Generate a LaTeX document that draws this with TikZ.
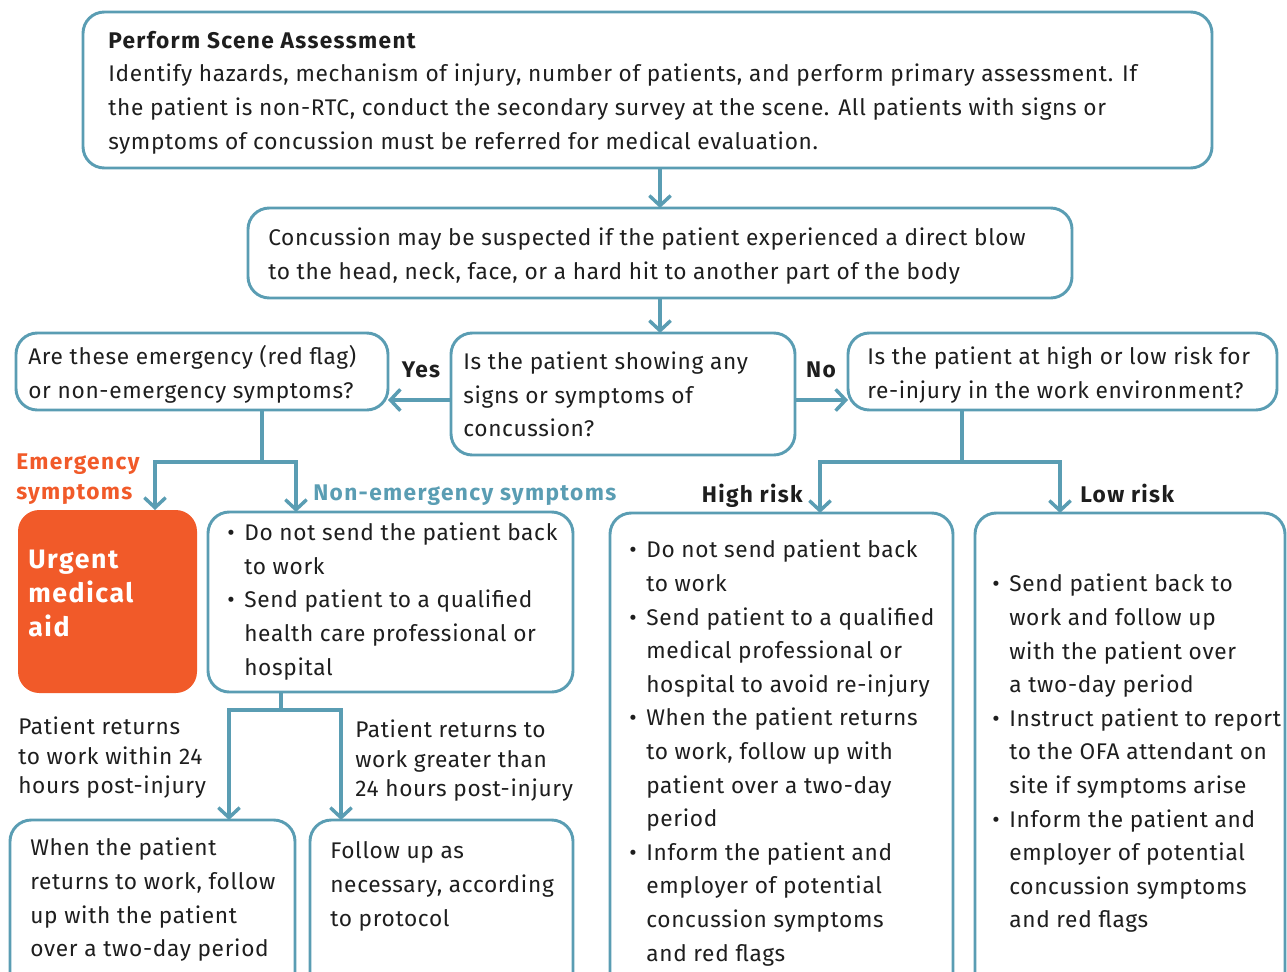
\documentclass[tikz,border=0pt]{standalone}
\usepackage{fontspec}
\setmainfont[LetterSpace=3,BoldFeatures={LetterSpace=6}]{Fira Sans}
\usetikzlibrary{arrows.meta,fit,calc}
\definecolor{tealc}{HTML}{5A9DB3}
\definecolor{orangec}{HTML}{F15A29}
\definecolor{ink}{HTML}{1E1E1E}
\newcommand{\bodyf}{\fontsize{17}{25.2}\selectfont}
\newcommand{\bit}{\makebox[12.75pt][l]{\textbullet}}
\newcommand{\ind}{\hspace*{12.75pt}}
\begin{document}
\begin{tikzpicture}[x=0.75pt,y=-0.75pt,
  box/.style={draw=tealc, line width=2.2pt, rounded corners=16pt, inner sep=0pt, outer sep=0pt},
  txt/.style={anchor=north west, inner sep=0pt, align=left, text=ink, font=\bodyf},
  lbl/.style={inner sep=0pt, text=ink, font=\bodyf\bfseries},
  conn/.style={draw=tealc, line width=2.6pt},
  arr/.style={conn, -{Straight Barb[length=7.5pt,width=16pt]}}]
\useasboundingbox (0,0) rectangle (1287,971);
\clip (0,0) rectangle (1287,971);
% boxes
\node[box, fit={(83,12)(1212,168)}] (top) {};
\node[box, fit={(248,208)(1072,298)}] (sec) {};
\node[box, fit={(451,333)(795,455)}] (q) {};
\node[box, fit={(16,333)(388,410)}] (lq) {};
\node[box, fit={(848,333)(1277,410)}] (rq) {};
\node[fill=orangec, rounded corners=16pt, inner sep=0pt, outer sep=0pt, fit={(18,510)(197,693)}] (urg) {};
\node[box, fit={(208,512)(573,692)}] (ne) {};
\node[box, fit={(10,820)(295,1000)}] (bl) {};
\node[box, fit={(310,820)(573,1000)}] (bm) {};
\node[box, fit={(610,513)(953,1000)}] (hr) {};
\node[box, fit={(975,513)(1285,1000)}] (lr) {};
% texts
\node[txt] (t1) at (108,24.5) {\strut\textbf{Perform Scene Assessment}\\
Identify hazards, mechanism of injury, number of patients, and perform primary assessment. If\\
the patient is non-RTC, conduct the secondary survey at the scene. All patients with signs or\\
symptoms of concussion must be referred for medical evaluation.};
\node[txt] (t2) at (268,222) {\strut Concussion may be suspected if the patient experienced a direct blow\\
to the head, neck, face, or a hard hit to another part of the body};
\node[txt] (tq) at (463,346) {\strut Is the patient showing any\\signs or symptoms of\\concussion?};
\node[txt] (tlq) at (28,341) {\strut Are these emergency (red flag)\\or non-emergency symptoms?};
\node[txt] (trq) at (867,341) {\strut Is the patient at high or low risk for\\re-injury in the work environment?};
\node[txt, text=white, font=\fontsize{20}{25.5}\selectfont\bfseries] (turg) at (28,544) {\strut Urgent\\medical\\aid};
\node[txt] (tne) at (227,517) {\strut\bit Do not send the patient back\\\ind to work\\
\bit Send patient to a qualified\\\ind health care professional or\\\ind hospital};
\node[txt] (tbl) at (30,832) {\strut When the patient\\returns to work, follow\\up with the patient\\over a two-day period};
\node[txt] (tbm) at (330,835) {\strut Follow up as\\necessary, according\\to protocol};
\node[txt] (thr) at (629,534) {\strut\bit Do not send patient back\\\ind to work\\
\bit Send patient to a qualified\\\ind medical professional or\\\ind hospital to avoid re-injury\\
\bit When the patient returns\\\ind to work, follow up with\\\ind patient over a two-day\\\ind period\\
\bit Inform the patient and\\\ind employer of potential\\\ind concussion symptoms\\\ind and red flags};
\node[txt] (tlr) at (992,568) {\strut\bit Send patient back to\\\ind work and follow up\\\ind with the patient over\\\ind a two-day period\\
\bit Instruct patient to report\\\ind to the OFA attendant on\\\ind site if symptoms arise\\
\bit Inform the patient and\\\ind employer of potential\\\ind concussion symptoms\\\ind and red flags};
% labels
\node[txt, text=orangec, font=\fontsize{17}{22.5}\selectfont\bfseries] (lem) at (16,448) {\strut Emergency\\symptoms};
\node[lbl, text=tealc, anchor=base west] (lne) at (313,500) {Non-emergency symptoms};
\node[lbl, anchor=base] (lyes) at (421,377) {Yes};
\node[lbl, anchor=base] (lno) at (821,377) {No};
\node[lbl, anchor=base east] (lhr) at (803,502) {High risk};
\node[lbl, anchor=base west] (llr) at (1080,502) {Low risk};
\node[txt, font=\fontsize{17}{22.1}\selectfont] (lw24) at (18,714) {\strut Patient returns\\to work within 24\\hours post-injury};
\node[txt, font=\fontsize{17}{22.1}\selectfont] (lg24) at (355,717) {\strut Patient returns to\\work greater than\\24 hours post-injury};
% connectors
\coordinate (yy) at (0,400);
\coordinate (j1) at (262,462);
\coordinate (j2) at (962,462);
\coordinate (j3) at (281,710);
\coordinate (ax1) at (155,0);
\coordinate (ax2) at (296,0);
\coordinate (ax3) at (820,0);
\coordinate (ax4) at (1060,0);
\coordinate (ax5) at (229,0);
\coordinate (ax6) at (341,0);
\draw[arr] (top.south -| sec.north) -- (sec.north);
\draw[arr] (sec.south) -- (sec.south |- q.north);
\draw[arr] (q.west |- yy) -- (lq.east |- yy);
\draw[arr] (q.east |- yy) -- (rq.west |- yy);
\draw[conn] (lq.south -| j1) -- (j1);
\draw[arr] (j1) -| (ax1 |- urg.north);
\draw[arr] (j1) -| (ax2 |- ne.north);
\draw[conn] (rq.south -| j2) -- (j2);
\draw[arr] (j2) -| (ax3 |- hr.north);
\draw[arr] (j2) -| (ax4 |- lr.north);
\draw[conn] (ne.south -| j3) -- (j3);
\draw[arr] (j3) -| (ax5 |- bl.north);
\draw[arr] (j3) -| (ax6 |- bm.north);
\end{tikzpicture}
\end{document}
